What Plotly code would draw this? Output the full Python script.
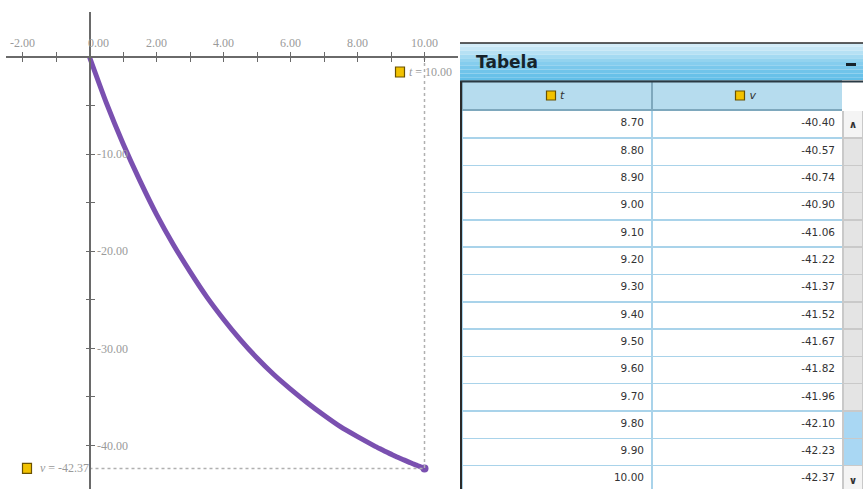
import plotly.graph_objects as go

# ---------------- data ----------------
t_curve = [0.0, 0.5, 1.0, 1.5, 2.0, 2.5, 3.0, 3.5, 4.0, 4.5, 5.0, 5.5, 6.0, 6.5, 7.0, 7.5, 8.0, 8.5]
v_curve = [0.0, -4.7, -8.9, -12.7, -16.2, -19.3, -22.1, -24.7, -27.0, -29.1, -31.0, -32.7,
           -34.2, -35.6, -36.9, -38.1, -39.1, -40.05]

t_table = [8.70, 8.80, 8.90, 9.00, 9.10, 9.20, 9.30, 9.40, 9.50, 9.60, 9.70, 9.80, 9.90, 10.00]
v_table = [-40.40, -40.57, -40.74, -40.90, -41.06, -41.22, -41.37, -41.52, -41.67, -41.82,
           -41.96, -42.10, -42.23, -42.37]

x_tick_vals = [-2, -1, 0, 1, 2, 3, 4, 5, 6, 7, 8, 9, 10]
x_tick_text = ["-2.00", "", "\u00a0\u00a0\u00a0\u00a0\u00a0\u00a00.00", "", "2.00", "", "4.00", "",
               "6.00", "", "8.00", "", "10.00"]
y_tick_vals = [-40, -35, -30, -25, -20, -15, -10, -5]
y_tick_text = ["-40.00", "", "-30.00", "", "-20.00", "", "-10.00", ""]

table_title = "Tabela"
col_names = ["t", "v"]

t_end = t_table[-1]
v_end = v_table[-1]

# ---------------- geometry helpers ----------------
W, H = 863, 489
def px(x):
    return x / W
def py(y):
    return 1 - y / H

AX = "#6a6a6a"
LBL = "#9a9a9a"
PURPLE = "#7a50b0"
YEL = "#f2c200"
YEL_EDGE = "#6b5200"

fig = go.Figure()

# curve
fig.add_trace(go.Scatter(
    x=t_curve + t_table, y=v_curve + v_table, mode="lines",
    line=dict(color=PURPLE, width=5, shape="spline", smoothing=0.6),
    xaxis="x", yaxis="y", showlegend=False, hoverinfo="skip"))
fig.add_trace(go.Scatter(
    x=[t_end], y=[v_end], mode="markers",
    marker=dict(color=PURPLE, size=8), xaxis="x", yaxis="y",
    showlegend=False, hoverinfo="skip"))

# dotted guides
fig.add_trace(go.Scatter(
    x=[t_end, t_end], y=[0, v_end], mode="lines",
    line=dict(color="#b0b0b0", width=1.5, dash="dot"),
    xaxis="x2", yaxis="y2", showlegend=False, hoverinfo="skip"))
fig.add_trace(go.Scatter(
    x=[0, t_end], y=[v_end, v_end], mode="lines",
    line=dict(color="#b0b0b0", width=1.5, dash="dot"),
    xaxis="x2", yaxis="y2", showlegend=False, hoverinfo="skip"))

# ---------------- table ----------------
n = len(t_table)
scroll_vals = ["<b>\u2227</b>"] + [""] * (n - 2) + ["<b>\u2228</b>"]
scroll_fill = ["#f4f4f4"] + ["#e4e4e4"] * (n - 4) + ["#a9d7f3", "#a9d7f3"] + ["#f4f4f4"]

fig.add_trace(go.Table(
    domain=dict(x=[px(462), 1], y=[0, py(81)]),
    columnwidth=[190, 191, 20],
    header=dict(
        values=[f"\u2002\u2002<i>{col_names[0]}</i>", f"\u2002\u2002<i>{col_names[1]}</i>", ""],
        fill_color=["#b6dcee", "#b6dcee", "white"],
        line=dict(color=["#7ea8bd", "#7ea8bd", "white"], width=1.5),
        align="center", height=29,
        font=dict(family="DejaVu Sans", size=11, color="#333333")),
    cells=dict(
        values=[[f"{t:.2f}" for t in t_table], [f"{v:.2f}" for v in v_table], scroll_vals],
        fill_color=[["white"] * n, ["white"] * n, scroll_fill],
        line=dict(color=["#a9d3ea", "#a9d3ea", "#c9c9c9"], width=1.5),
        align=["right", "right", "center"], height=27.3,
        font=dict(family="DejaVu Sans", size=10.5, color="#333333"))))

shapes = []
# title bar gradient (bands)
top, bot = 43, 81
cols = ["#d2ecf8", "#c6e7f6", "#b6e1f4", "#a4daf2", "#93d3ef", "#85cdee", "#7ac8ec",
        "#70c4ea", "#68c1e9", "#63bfe8"]
nb = len(cols)
for i, c in enumerate(cols):
    y0 = top + (bot - top) * i / nb
    y1 = top + (bot - top) * (i + 1) / nb
    shapes.append(dict(type="rect", xref="paper", yref="paper", x0=px(460), x1=1,
                       y0=py(y1), y1=py(y0), fillcolor=c, line=dict(width=0), layer="below"))
shapes.append(dict(type="line", xref="paper", yref="paper", x0=px(460), x1=1,
                   y0=py(43), y1=py(43), line=dict(color="#2a2a2a", width=1.5)))
shapes.append(dict(type="line", xref="paper", yref="paper", x0=px(460), x1=1,
                   y0=py(81.5), y1=py(81.5), line=dict(color="#2a3a44", width=2)))
shapes.append(dict(type="line", xref="paper", yref="paper", x0=px(461), x1=px(461),
                   y0=0, y1=py(81.5), line=dict(color="#2a2a2a", width=2)))
# minimise dash in title bar
shapes.append(dict(type="rect", xref="paper", yref="paper", x0=px(846), x1=px(856),
                   y0=py(66), y1=py(63), fillcolor="#16232b", line=dict(width=0)))

# header icons (yellow squares) for the two table columns
for cx in (551, 740):
    shapes.append(dict(type="rect", xref="paper", yref="paper", layer="above",
                       x0=px(cx - 4.5), x1=px(cx + 4.5), y0=py(100), y1=py(91),
                       fillcolor=YEL, line=dict(color=YEL_EDGE, width=1.2)))

# yellow marker squares next to readouts
shapes.append(dict(type="rect", xref="x", yref="y", xsizemode="pixel", ysizemode="pixel",
                   xanchor=t_end, yanchor=0, x0=-29, x1=-20, y0=-10, y1=-20,
                   fillcolor=YEL, line=dict(color=YEL_EDGE, width=1.2)))
shapes.append(dict(type="rect", xref="x", yref="y", xsizemode="pixel", ysizemode="pixel",
                   xanchor=0, yanchor=v_end, x0=-67, x1=-58, y0=-5, y1=5,
                   fillcolor=YEL, line=dict(color=YEL_EDGE, width=1.2)))

annotations = [
    dict(x=t_end, y=0, xref="x", yref="y", xanchor="left", yanchor="middle",
         xshift=-18, yshift=-15, showarrow=False,
         text=f"<i>t</i> = {t_end:.2f}",
         font=dict(family="Liberation Serif", size=12, color=LBL)),
    dict(x=0, y=v_end, xref="x", yref="y", xanchor="right", yanchor="middle",
         xshift=1, yshift=0, showarrow=False,
         text=f"<i>v</i> = {v_end:.2f}",
         font=dict(family="Liberation Serif", size=12, color=LBL)),
    dict(x=px(474), y=py(62), xref="paper", yref="paper", xanchor="left", yanchor="middle",
         showarrow=False, text=f"<b>{table_title}</b>",
         font=dict(family="DejaVu Sans", size=17, color="#16232b")),
]

x_dom = [px(6), px(458)]
x_rng = [-2.4925, 11.0]
y_dom = [0, py(12)]
y_rng = [-44.49, 4.634]
x_pos = py(57)       # paper y where v = 0
y_pos = px(89.5)     # paper x where t = 0

tickfont = dict(family="Liberation Serif", size=12, color=LBL)

fig.update_layout(
    width=W, height=H, margin=dict(l=0, r=0, t=0, b=0),
    paper_bgcolor="white", plot_bgcolor="white", showlegend=False,
    xaxis=dict(domain=x_dom, range=x_rng, anchor="free", position=x_pos, side="top",
               showline=True, linecolor=AX, linewidth=2,
               ticks="outside", ticklen=4, tickwidth=1.2, tickcolor=AX,
               tickmode="array", tickvals=x_tick_vals, ticktext=x_tick_text,
               tickfont=tickfont, showgrid=False, zeroline=False, fixedrange=True),
    xaxis2=dict(domain=x_dom, range=x_rng, anchor="free", position=x_pos, side="bottom",
                overlaying="x", matches="x", showline=False,
                ticks="outside", ticklen=4, tickwidth=1.2, tickcolor=AX,
                tickmode="array", tickvals=x_tick_vals, showticklabels=False,
                showgrid=False, zeroline=False),
    yaxis=dict(domain=y_dom, range=y_rng, anchor="free", position=y_pos, side="right",
               showline=True, linecolor=AX, linewidth=2,
               ticks="outside", ticklen=4, tickwidth=1.2, tickcolor=AX,
               tickmode="array", tickvals=y_tick_vals, ticktext=y_tick_text,
               tickfont=tickfont, showgrid=False, zeroline=False, fixedrange=True),
    yaxis2=dict(domain=y_dom, range=y_rng, anchor="free", position=y_pos, side="left",
                overlaying="y", matches="y", showline=False,
                ticks="outside", ticklen=4, tickwidth=1.2, tickcolor=AX,
                tickmode="array", tickvals=y_tick_vals, showticklabels=False,
                showgrid=False, zeroline=False),
    shapes=shapes, annotations=annotations,
)

fig.write_html("out.html", config={"displayModeBar": False},
               post_script="document.body.style.margin='0';")
